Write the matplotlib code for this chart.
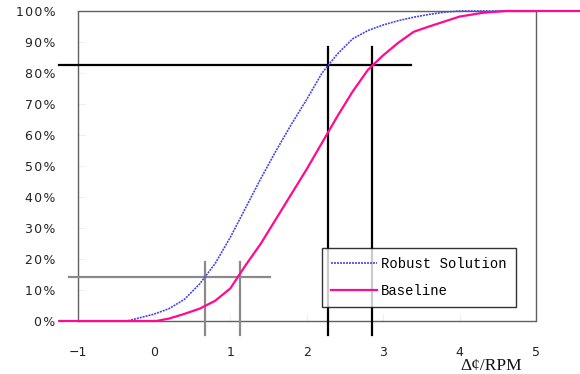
import matplotlib
matplotlib.use("Agg")
import matplotlib.pyplot as plt
from matplotlib.ticker import FuncFormatter

# ---- data ----
robust_x = [-1.24, -0.35, 0.0, 0.2, 0.4, 0.6, 0.8, 1.0, 1.2, 1.4, 1.6, 1.8, 2.0,
            2.2, 2.4, 2.6, 2.8, 3.0, 3.2, 3.4, 3.6, 3.8, 4.0, 5.6]
robust_y = [0, 0, 2.2, 4.0, 7.0, 12.0, 18.5, 27.0, 36.5, 46.0, 55.0, 63.5, 71.5,
            80.0, 86.1, 91.0, 93.7, 95.5, 96.9, 98.0, 98.9, 99.6, 100, 100]

base_x = [-1.24, 0.03, 0.2, 0.4, 0.6, 0.8, 1.0, 1.2, 1.4, 1.6, 1.8, 2.0, 2.2,
          2.4, 2.6, 2.8, 3.0, 3.2, 3.4, 3.6, 3.8, 4.0, 4.3, 4.6, 5.6]
base_y = [0, 0, 0.8, 2.3, 4.0, 6.5, 10.5, 18.0, 25.0, 33.0, 41.0, 49.0, 57.5,
          66.0, 74.0, 81.0, 85.7, 89.8, 93.3, 95.0, 96.6, 98.2, 99.4, 100, 100]

# reference (crosshair) lines
hi_level = 82.6
hi_x = [2.28, 2.86]
lo_level = 14.3
lo_x = [0.667, 1.126]

x_ticks = [-1, 0, 1, 2, 3, 4, 5]
y_ticks = [0, 10, 20, 30, 40, 50, 60, 70, 80, 90, 100]

W, H = 580, 374
fig = plt.figure(figsize=(W / 100, H / 100), dpi=100)
ax = fig.add_axes([77.5 / W, 1 - 321 / H, (536 - 77.5) / W, (321 - 11) / H])
ax.set_xlim(-1, 5)
ax.set_ylim(0, 100)

for s in ax.spines.values():
    s.set_linestyle((0, (1, 1)))
    s.set_color("#606060")
    s.set_linewidth(1.0)

# crosshair lines
ax.plot([-1.24, 3.36], [hi_level, hi_level], color="black", lw=1.6, clip_on=False, zorder=3)
for xv in hi_x:
    ax.plot([xv, xv], [-4.5, 88.4], color="black", lw=1.6, clip_on=False, zorder=3)
ax.plot([-1.105, 1.52], [lo_level, lo_level], color="#8a8a8a", lw=1.6, clip_on=False, zorder=3)
for xv in lo_x:
    ax.plot([xv, xv], [-4.5, 19.0], color="#8a8a8a", lw=1.6, clip_on=False, zorder=3)

ax.plot(robust_x, robust_y, color="#4646e6", lw=1.2, linestyle=(0, (1.2, 0.6)),
        clip_on=False, zorder=4, label="Robust Solution")
ax.plot(base_x, base_y, color="#ff0a90", lw=1.6, clip_on=False, zorder=4, label="Baseline")

ax.set_xticks(x_ticks)
ax.set_yticks(y_ticks)
ax.yaxis.set_major_formatter(FuncFormatter(lambda v, p: "\u200a".join(f"{int(v)}%")))
ax.tick_params(axis="both", direction="in", length=5, color="#eeeeee",
               labelsize=9, labelcolor="#222222")
ax.tick_params(axis="x", pad=18)
ax.tick_params(axis="y", pad=16)

leg = ax.legend(loc="upper left", bbox_to_anchor=(322 / W, 1 - 248 / H),
                bbox_transform=fig.transFigure, frameon=True, fancybox=False,
                prop={"family": "Liberation Mono", "size": 10},
                handlelength=3.3, handletextpad=0.3, labelspacing=0.95,
                borderpad=0.65, borderaxespad=0)
leg.get_frame().set_edgecolor("black")
leg.get_frame().set_linewidth(1.0)
leg.set_zorder(5)

fig.text(491 / W, 1 - 366 / H, "\u0394\u00a2/RPM", family="Liberation Serif",
         fontsize=12.5, ha="center", va="center", color="#111111")

fig.savefig("out.png", dpi=100)
